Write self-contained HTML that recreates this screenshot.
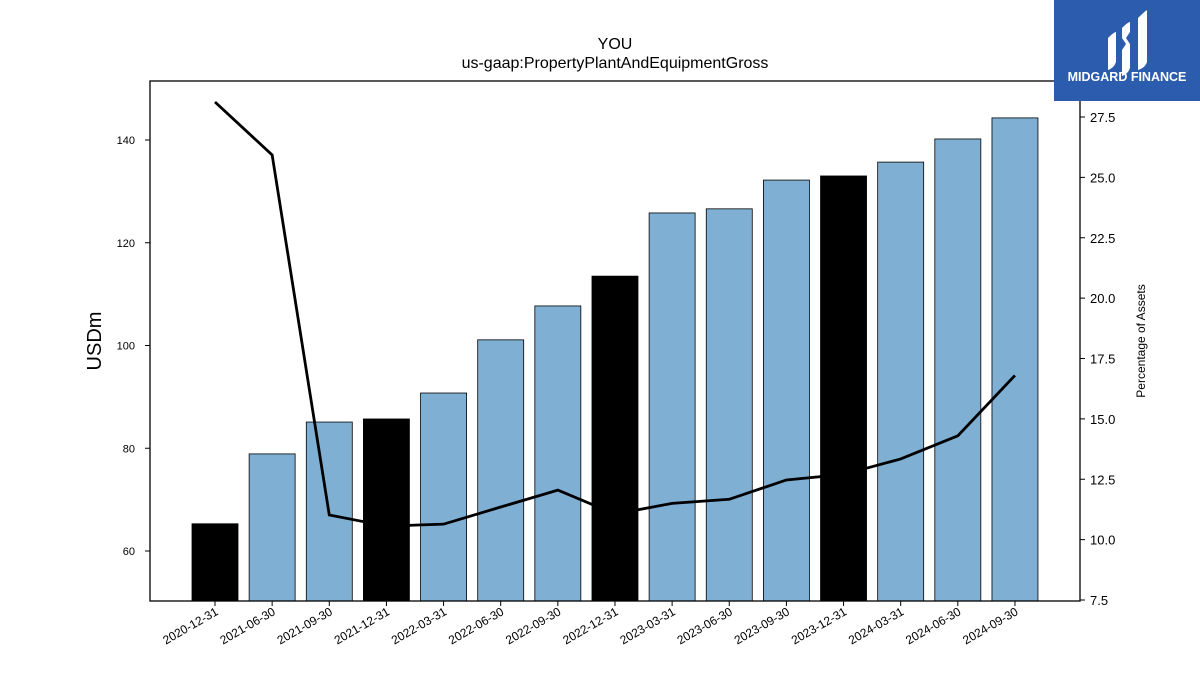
<!DOCTYPE html>
<html><head><meta charset="utf-8"><style>
body{margin:0;background:#fff;font-family:"Liberation Sans",sans-serif}
svg text{font-family:"Liberation Sans",sans-serif}
</style></head><body>
<svg id="c" width="1200" height="675" xmlns="http://www.w3.org/2000/svg">
<rect width="1200" height="675" fill="#fff"/>
<text x="615" y="49" text-anchor="middle" font-size="16">YOU</text>
<text x="615" y="68" text-anchor="middle" font-size="16">us-gaap:PropertyPlantAndEquipmentGross</text>
<g id="bars"></g><g id="line"></g><g id="axes"></g>
<rect x="150" y="81" width="930" height="520" fill="none" stroke="#000" stroke-width="1.3"/>
<text transform="translate(101,341) rotate(-90)" text-anchor="middle" font-size="20">USDm</text>
<text transform="translate(1145,341) rotate(-90)" text-anchor="middle" font-size="12">Percentage of Assets</text>
<g>
<rect x="1054" y="0" width="146" height="101" fill="#2c5cad"/>
<path d="M1108 38 q6-6 8-6 v30 q-2 6-8 8z M1122 28 q6-6 8-6 v10 l-4 6 l4 6 v24 q-2 6-8 8 v-26 l4 -6 l-4 -6z M1138 18 q6-6 9-8 v52 q-2 6-9 8z" fill="#fff"/>
<text x="1127" y="81" text-anchor="middle" font-size="12.5" font-weight="bold" fill="#fff">MIDGARD FINANCE</text>
</g>
</svg>
<script>
const categories=["2020-12-31","2021-06-30","2021-09-30","2021-12-31","2022-03-31","2022-06-30","2022-09-30","2022-12-31","2023-03-31","2023-06-30","2023-09-30","2023-12-31","2024-03-31","2024-06-30","2024-09-30"];
const values=[65.3,78.9,85.1,85.7,90.75,101.1,107.7,113.5,125.8,126.6,132.2,133.0,135.7,140.2,144.3];
const pct=[28.12,25.93,11.02,10.56,10.64,11.35,12.05,11.06,11.5,11.67,12.47,12.7,13.34,14.3,16.8];
const yTicks=[60,80,100,120,140];
const y2Ticks=[7.5,10.0,12.5,15.0,17.5,20.0,22.5,25.0,27.5];
const NS="http://www.w3.org/2000/svg";
const y=v=>551-(v-60)*5.1375;
const y2=v=>600-(v-7.5)*24.15;
const x=i=>215+i*57.14;
function mk(t,a,p){const e=document.createElementNS(NS,t);for(const k in a)e.setAttribute(k,a[k]);p.appendChild(e);return e;}
const bg=document.getElementById('bars'),lg=document.getElementById('line'),ag=document.getElementById('axes');
values.forEach((v,i)=>{
 const ye=categories[i].endsWith("12-31");
 const r=mk('rect',{x:x(i)-23,y:y(v),width:46,height:601-y(v),fill:ye?'#000':'#7fb0d4',stroke:'#000','stroke-width':0.8},bg);
 
 
 const t=mk('line',{x1:x(i),x2:x(i),y1:601,y2:606,stroke:'#000'},ag);
 const l=mk('text',{transform:`translate(${x(i)+4},${614}) rotate(-30)`,'text-anchor':'end','font-size':12},ag);
 l.textContent=categories[i];
 
 
});
const pl=mk('polyline',{points:pct.map((v,i)=>x(i)+','+y2(v)).join(' '),fill:'none',stroke:'#000','stroke-width':2.8},lg);


yTicks.forEach(v=>{
 mk('line',{x1:145,x2:150,y1:y(v),y2:y(v),stroke:'#000'},ag);
 const t=mk('text',{x:135,y:y(v)+4,'text-anchor':'end','font-size':11},ag);t.textContent=v;
 
 
});
y2Ticks.forEach(v=>{
 mk('line',{x1:1080,x2:1085,y1:y2(v),y2:y2(v),stroke:'#000'},ag);
 const t=mk('text',{x:1090,y:y2(v)+5,'font-size':13},ag);t.textContent=v.toFixed(1);
 
 
});
</script>
</body></html>
